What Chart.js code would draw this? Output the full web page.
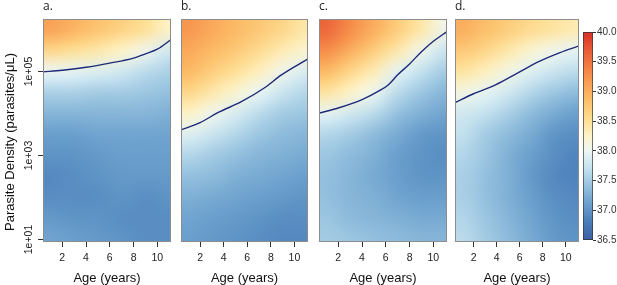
<!DOCTYPE html>
<html>
<head>
<meta charset="utf-8">
<script src="https://cdn.jsdelivr.net/npm/chart.js@4.4.1/dist/chart.umd.min.js"></script>
<style>
  html, body { margin: 0; padding: 0; background: #fff; }
  #wrap { position: relative; width: 617px; height: 285px; overflow: hidden; }
  #wrap canvas { position: absolute; top: 0; }
</style>
</head>
<body>
<div id="wrap">
  <canvas id="pa" width="176" height="285" style="left:0"></canvas>
  <canvas id="pb" width="136" height="285" style="left:176px"></canvas>
  <canvas id="pc" width="139" height="285" style="left:312px"></canvas>
  <canvas id="pd" width="129" height="285" style="left:451px"></canvas>
  <canvas id="cbar" width="37" height="285" style="left:580px"></canvas>
</div>
<script>
// grid of the heat maps: columns = age (years), rows = log10 parasite density
const gridAges = [1, 3, 5, 7, 9, 11];
const gridLogDensity = [6.0, 5.5, 5.0, 4.5, 4.0, 3.5, 3.0, 2.5, 2.0, 1.5, 1.0];

// temperatures (one row per density, one value per age)
const tempA = [
  [39.1, 38.95, 38.8, 38.65, 38.5, 38.25],
  [38.6, 38.5, 38.4, 38.25, 38.05, 37.8],
  [38.0, 37.95, 37.9, 37.8, 37.65, 37.55],
  [37.55, 37.55, 37.5, 37.5, 37.45, 37.4],
  [37.3, 37.3, 37.3, 37.3, 37.3, 37.25],
  [37.1, 37.1, 37.15, 37.15, 37.15, 37.15],
  [37.0, 37.0, 37.05, 37.1, 37.1, 37.1],
  [36.9, 36.95, 37.0, 37.05, 37.05, 37.05],
  [36.95, 36.95, 36.95, 37.0, 36.95, 37.0],
  [37.05, 37.0, 37.0, 36.95, 36.95, 36.95],
  [37.15, 37.1, 37.05, 37.0, 36.95, 36.95]
];
const tempB = [
  [39.2, 39.05, 38.9, 38.75, 38.6, 38.4],
  [39.05, 38.9, 38.75, 38.55, 38.35, 38.2],
  [38.9, 38.7, 38.5, 38.3, 38.05, 37.85],
  [38.6, 38.4, 38.2, 37.98, 37.75, 37.6],
  [38.25, 38.05, 37.85, 37.65, 37.5, 37.45],
  [37.9, 37.75, 37.6, 37.45, 37.35, 37.3],
  [37.6, 37.5, 37.4, 37.3, 37.25, 37.2],
  [37.4, 37.35, 37.25, 37.2, 37.15, 37.1],
  [37.25, 37.2, 37.15, 37.1, 37.05, 37.0],
  [37.15, 37.1, 37.05, 37.0, 36.95, 36.95],
  [37.1, 37.05, 37.0, 36.95, 36.9, 36.9]
];
const tempC = [
  [39.6, 39.3, 39.0, 38.7, 38.4, 38.05],
  [39.3, 39.0, 38.7, 38.4, 38.05, 37.75],
  [38.9, 38.6, 38.35, 37.95, 37.7, 37.5],
  [38.45, 38.25, 38.02, 37.65, 37.45, 37.3],
  [37.95, 37.8, 37.65, 37.4, 37.25, 37.15],
  [37.6, 37.5, 37.35, 37.2, 37.05, 37.0],
  [37.45, 37.35, 37.25, 37.1, 37.0, 36.95],
  [37.4, 37.3, 37.2, 37.1, 37.0, 37.0],
  [37.4, 37.3, 37.25, 37.15, 37.1, 37.1],
  [37.45, 37.35, 37.3, 37.25, 37.2, 37.2],
  [37.5, 37.45, 37.4, 37.35, 37.3, 37.3]
];
const tempD = [
  [39.0, 38.85, 38.7, 38.55, 38.45, 38.35],
  [38.75, 38.6, 38.4, 38.2, 38.05, 37.95],
  [38.45, 38.3, 38.1, 37.9, 37.75, 37.65],
  [38.1, 37.95, 37.8, 37.6, 37.45, 37.35],
  [37.8, 37.7, 37.55, 37.35, 37.2, 37.1],
  [37.7, 37.5, 37.35, 37.2, 37.0, 36.95],
  [37.6, 37.45, 37.25, 37.1, 36.95, 36.85],
  [37.55, 37.4, 37.25, 37.05, 36.9, 36.85],
  [37.55, 37.4, 37.25, 37.1, 36.95, 36.9],
  [37.6, 37.45, 37.3, 37.15, 37.0, 36.95],
  [37.65, 37.5, 37.35, 37.2, 37.05, 37.0]
];

// 38 degree contour lines (age, log10 density)
const contourAgesA = [0.38, 2, 4, 6, 8, 9, 10, 11.15];
const contourLogA  = [4.99, 5.03, 5.1, 5.2, 5.32, 5.42, 5.53, 5.76];
const contourAgesB = [0.38, 2, 3.5, 5.5, 7.5, 8.9, 11.15];
const contourLogB  = [3.61, 3.78, 4.02, 4.28, 4.62, 4.92, 5.3];
const contourAgesC = [0.38, 2, 4, 5.5, 6.2, 7, 8, 9, 10, 11.15];
const contourLogC  = [4.01, 4.13, 4.33, 4.55, 4.68, 4.92, 5.18, 5.47, 5.72, 5.95];
const contourAgesD = [0.38, 2, 3.9, 5.8, 7.7, 9.5, 11.15];
const contourLogD  = [4.26, 4.47, 4.68, 4.96, 5.24, 5.45, 5.61];

const panelLabels = ['a.', 'b.', 'c.', 'd.'];
const ageTicks = [2, 4, 6, 8, 10];
const densityTicks = [10, 1000, 100000];
const colorTicks = [36.5, 37.0, 37.5, 38.0, 38.5, 39.0, 39.5, 40.0];

// colour ramp (blue - white - yellow - red)
const rampStops = [
  [36.5, [60, 95, 163]],
  [36.8, [74, 125, 185]],
  [37.1, [106, 159, 204]],
  [37.4, [148, 192, 222]],
  [37.7, [195, 225, 238]],
  [38.0, [236, 246, 244]],
  [38.25, [254, 243, 200]],
  [38.5, [253, 224, 150]],
  [38.9, [252, 186, 100]],
  [39.3, [246, 140, 74]],
  [39.7, [232, 90, 54]],
  [40.0, [215, 48, 39]]
];

function tempColor(v) {
  if (v <= rampStops[0][0]) return 'rgb(' + rampStops[0][1].join(',') + ')';
  for (let i = 1; i < rampStops.length; i++) {
    const [v1, c1] = rampStops[i];
    const [v0, c0] = rampStops[i - 1];
    if (v <= v1) {
      const t = (v - v0) / (v1 - v0);
      const c = c0.map((k, j) => Math.round(k + (c1[j] - k) * t));
      return 'rgb(' + c.join(',') + ')';
    }
  }
  return 'rgb(' + rampStops[rampStops.length - 1][1].join(',') + ')';
}

const FONT = "'Liberation Sans', Arial, sans-serif";
const AGE_MIN = 0.38, AGE_MAX = 11.15;
const LOG_MIN = 0.94, LOG_MAX = 6.25;

function makePanel(id, idx, grid, cAges, cLogs, padL, padR, withY) {
  const heat = {
    id: 'heat' + idx,
    beforeDatasetsDraw(chart) {
      const { ctx, chartArea: a, scales: { x, y } } = chart;
      const off = document.createElement('canvas');
      off.width = gridAges.length;
      off.height = gridLogDensity.length;
      const o = off.getContext('2d');
      grid.forEach((row, r) => row.forEach((v, c) => {
        o.fillStyle = tempColor(v);
        o.fillRect(c, r, 1, 1);
      }));
      const dA = gridAges[1] - gridAges[0];
      const dL = gridLogDensity[0] - gridLogDensity[1];
      const n = gridLogDensity.length - 1;
      const x0 = x.getPixelForValue(gridAges[0] - dA / 2);
      const x1 = x.getPixelForValue(gridAges[gridAges.length - 1] + dA / 2);
      const y0 = y.getPixelForValue(Math.pow(10, gridLogDensity[0] + dL / 2));
      const y1 = y.getPixelForValue(Math.pow(10, gridLogDensity[n] - dL / 2));
      ctx.save();
      ctx.beginPath();
      ctx.rect(a.left, a.top, a.width, a.height);
      ctx.clip();
      ctx.imageSmoothingEnabled = true;
      ctx.imageSmoothingQuality = 'high';
      ctx.drawImage(off, x0, y0, x1 - x0, y1 - y0);
      ctx.restore();
    },
    afterDraw(chart) {
      const { ctx, chartArea: a } = chart;
      ctx.save();
      // frame
      ctx.strokeStyle = '#8c8c8c';
      ctx.lineWidth = 1;
      ctx.strokeRect(a.left + 0.5, a.top + 0.5, a.width - 1, a.height - 1);
      // panel letter
      ctx.fillStyle = '#222';
      ctx.font = "12px 'Open Sans', sans-serif";
      ctx.textBaseline = 'middle';
      ctx.textAlign = 'left';
      ctx.fillText(panelLabels[idx], a.left, 7);
      if (withY) {
        const ys = chart.scales.y;
        ctx.font = '10.5px ' + FONT;
        ctx.textAlign = 'center';
        densityTicks.forEach(v => {
          const py = ys.getPixelForValue(v);
          const e = Math.round(Math.log10(v));
          ctx.save();
          ctx.translate(29, py);
          ctx.rotate(-Math.PI / 2);
          ctx.fillText('1e+' + String(e).padStart(2, '0'), 0, 0);
          ctx.restore();
        });
        ctx.font = '13px ' + FONT;
        ctx.fillStyle = '#111';
        ctx.translate(10, 142);
        ctx.rotate(-Math.PI / 2);
        ctx.fillText('Parasite Density (parasites/\u03bcL)', 0, 0);
      }
      ctx.restore();
    }
  };

  return new Chart(document.getElementById(id), {
    type: 'scatter',
    data: {
      datasets: [{
        data: cAges.map((a, i) => ({ x: a, y: Math.pow(10, cLogs[i]) })),
        showLine: true,
        borderColor: '#1e2a78',
        borderWidth: 1.4,
        pointRadius: 0,
        cubicInterpolationMode: 'monotone',
        fill: false
      }]
    },
    options: {
      responsive: false,
      animation: false,
      layout: { padding: { left: padL, right: padR, top: 19, bottom: 0 } },
      plugins: { legend: { display: false }, tooltip: { enabled: false } },
      scales: {
        x: {
          type: 'linear',
          min: AGE_MIN,
          max: AGE_MAX,
          afterBuildTicks: s => { s.ticks = ageTicks.map(v => ({ value: v })); },
          afterFit: s => { s.height = 43; },
          grid: { drawOnChartArea: false, drawTicks: true, tickLength: 5, color: '#333' },
          border: { display: false },
          ticks: { color: '#222', padding: 5, maxRotation: 0, font: { family: FONT, size: 10.5 } },
          title: {
            display: true, text: 'Age (years)', color: '#111',
            padding: 0, font: { family: FONT, size: 13, lineHeight: 1 }
          }
        },
        y: {
          type: 'logarithmic',
          display: withY,
          min: Math.pow(10, LOG_MIN),
          max: Math.pow(10, LOG_MAX),
          afterBuildTicks: s => { s.ticks = densityTicks.map(v => ({ value: v })); },
          afterFit: s => { s.width = withY ? 43 : 0; },
          grid: { drawOnChartArea: false, drawTicks: true, tickLength: 5, color: '#333' },
          border: { display: false },
          ticks: { display: false }
        }
      }
    },
    plugins: [heat]
  });
}

makePanel('pa', 0, tempA, contourAgesA, contourLogA, 0, 5, true);
makePanel('pb', 1, tempB, contourAgesB, contourLogB, 5, 4, false);
makePanel('pc', 2, tempC, contourAgesC, contourLogC, 7, 4, false);
makePanel('pd', 3, tempD, contourAgesD, contourLogD, 4, 1, false);

// colour key
new Chart(document.getElementById('cbar'), {
  type: 'bar',
  data: {
    labels: [''],
    datasets: [{
      data: [[colorTicks[0], colorTicks[colorTicks.length - 1]]],
      backgroundColor: ctx => {
        const { chart } = ctx;
        const ys = chart.scales.y;
        if (!ys || !chart.chartArea) return '#ccc';
        const lo = colorTicks[0], hi = colorTicks[colorTicks.length - 1];
        const g = chart.ctx.createLinearGradient(0, ys.getPixelForValue(lo), 0, ys.getPixelForValue(hi));
        rampStops.forEach(([v, c]) => g.addColorStop((v - lo) / (hi - lo), 'rgb(' + c.join(',') + ')'));
        return g;
      },
      borderColor: '#333',
      borderWidth: 1,
      borderSkipped: false,
      barPercentage: 1,
      categoryPercentage: 1
    }]
  },
  options: {
    responsive: false,
    animation: false,
    layout: { padding: { left: 3, right: 0, top: 32, bottom: 45 } },
    plugins: { legend: { display: false }, tooltip: { enabled: false } },
    scales: {
      x: { display: false },
      y: {
        position: 'right',
        min: colorTicks[0],
        max: colorTicks[colorTicks.length - 1],
        afterBuildTicks: s => { s.ticks = colorTicks.map(v => ({ value: v })); },
        afterFit: s => { s.width = 24; },
        grid: { drawOnChartArea: false, drawTicks: true, tickLength: 3, color: '#333' },
        border: { display: false },
        ticks: {
          color: '#333', padding: 1,
          font: { family: FONT, size: 10 },
          callback: v => Number(v).toFixed(1)
        }
      }
    }
  }
});
</script>
</body>
</html>
